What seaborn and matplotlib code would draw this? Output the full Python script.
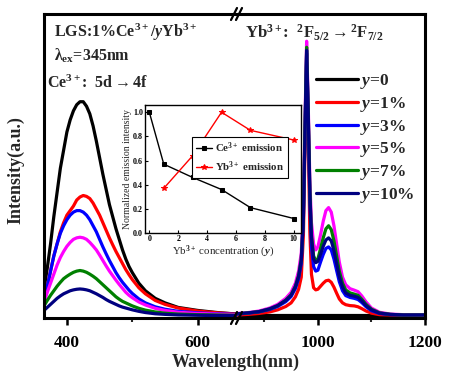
import matplotlib
matplotlib.use("Agg")
import matplotlib.pyplot as plt
import seaborn as sns
import pandas as pd

# ---------------- data ----------------
labels = ["y=0", "y=1%", "y=3%", "y=5%", "y=7%", "y=10%"]
colors = ["#000000", "#ff0000", "#0000ff", "#ff00ff", "#008000", "#000080"]

wl_left = [365, 370, 375, 380, 385, 390, 395, 400, 405, 410, 415, 420, 425, 430, 435, 440, 445, 450,
           455, 460, 465, 470, 475, 480, 485, 490, 495, 500, 510, 520, 535, 550, 570, 600, 630, 660]
ce_y0 = [0.09, 0.16, 0.24, 0.33, 0.41, 0.49, 0.55, 0.61, 0.65, 0.68, 0.70, 0.71, 0.71, 0.695, 0.67, 0.63, 0.58, 0.525,
         0.47, 0.42, 0.37, 0.33, 0.29, 0.255, 0.22, 0.19, 0.165, 0.145, 0.11, 0.085, 0.06, 0.045, 0.03, 0.02, 0.013, 0.008]
ce_y1 = [0.06, 0.10, 0.15, 0.20, 0.24, 0.28, 0.31, 0.335, 0.35, 0.365, 0.385, 0.395, 0.40, 0.397, 0.39, 0.375, 0.355, 0.335,
         0.31, 0.285, 0.26, 0.237, 0.215, 0.195, 0.175, 0.155, 0.138, 0.122, 0.095, 0.075, 0.053, 0.04, 0.028, 0.018, 0.012, 0.008]
ce_y3 = [0.06, 0.10, 0.15, 0.20, 0.24, 0.275, 0.30, 0.32, 0.335, 0.345, 0.35, 0.35, 0.345, 0.335, 0.32, 0.30, 0.28, 0.255,
         0.23, 0.207, 0.185, 0.165, 0.145, 0.128, 0.113, 0.10, 0.087, 0.076, 0.058, 0.045, 0.032, 0.024, 0.017, 0.012, 0.009, 0.007]
ce_y5 = [0.045, 0.08, 0.11, 0.14, 0.17, 0.195, 0.215, 0.232, 0.245, 0.255, 0.26, 0.262, 0.26, 0.255, 0.245, 0.233, 0.22, 0.203,
         0.185, 0.167, 0.15, 0.135, 0.12, 0.106, 0.093, 0.08, 0.07, 0.062, 0.048, 0.038, 0.027, 0.02, 0.014, 0.01, 0.008, 0.006]
ce_y7 = [0.035, 0.053, 0.07, 0.085, 0.10, 0.113, 0.125, 0.133, 0.14, 0.146, 0.15, 0.152, 0.15, 0.146, 0.14, 0.133, 0.125, 0.115,
         0.105, 0.095, 0.085, 0.075, 0.065, 0.057, 0.05, 0.045, 0.04, 0.035, 0.027, 0.021, 0.015, 0.011, 0.008, 0.006, 0.005, 0.004]
ce_y10 = [0.02, 0.03, 0.04, 0.05, 0.06, 0.068, 0.075, 0.08, 0.085, 0.088, 0.09, 0.091, 0.09, 0.088, 0.085, 0.08, 0.075, 0.069,
          0.063, 0.056, 0.05, 0.045, 0.04, 0.035, 0.031, 0.028, 0.025, 0.022, 0.017, 0.013, 0.009, 0.007, 0.005, 0.004, 0.003, 0.003]

wl_right = [850, 870, 890, 910, 925, 940, 950, 958, 964, 969, 973, 976, 979, 982, 985, 988, 992, 996, 1000, 1005,
            1010, 1015, 1020, 1025, 1030, 1035, 1040, 1046, 1052, 1060, 1068, 1075, 1082, 1090, 1100, 1115, 1135, 1160, 1200]
yb_y0 = [0.004] * 39
yb_y1 = [0.005, 0.007, 0.01, 0.015, 0.022, 0.033, 0.045, 0.065, 0.09, 0.13, 0.27, 0.56, 0.84, 0.58, 0.28, 0.14, 0.095, 0.088, 0.09, 0.1,
         0.11, 0.118, 0.12, 0.113, 0.097, 0.077, 0.058, 0.045, 0.039, 0.036, 0.035, 0.032, 0.026, 0.018, 0.011, 0.006, 0.005, 0.004, 0.004]
yb_y3 = [0.008, 0.011, 0.015, 0.023, 0.033, 0.049, 0.066, 0.092, 0.125, 0.175, 0.32, 0.61, 0.87, 0.65, 0.38, 0.23, 0.165, 0.15, 0.153, 0.18,
         0.205, 0.225, 0.23, 0.22, 0.19, 0.152, 0.115, 0.085, 0.069, 0.063, 0.06, 0.056, 0.046, 0.032, 0.019, 0.01, 0.006, 0.005, 0.005]
yb_y5 = [0.01, 0.013, 0.018, 0.028, 0.04, 0.06, 0.08, 0.11, 0.15, 0.21, 0.36, 0.65, 0.91, 0.70, 0.45, 0.31, 0.24, 0.22, 0.23, 0.27,
         0.315, 0.35, 0.36, 0.345, 0.30, 0.24, 0.18, 0.13, 0.105, 0.092, 0.087, 0.082, 0.068, 0.048, 0.028, 0.014, 0.008, 0.006, 0.005]
yb_y7 = [0.009, 0.012, 0.016, 0.025, 0.036, 0.054, 0.072, 0.10, 0.135, 0.19, 0.34, 0.63, 0.89, 0.68, 0.42, 0.27, 0.20, 0.185, 0.19, 0.225,
         0.26, 0.29, 0.30, 0.287, 0.25, 0.20, 0.15, 0.11, 0.088, 0.078, 0.074, 0.07, 0.057, 0.04, 0.024, 0.012, 0.007, 0.005, 0.005]
yb_y10 = [0.009, 0.012, 0.016, 0.025, 0.036, 0.053, 0.07, 0.098, 0.132, 0.185, 0.33, 0.62, 0.88, 0.67, 0.41, 0.26, 0.19, 0.178, 0.182, 0.205,
          0.232, 0.253, 0.26, 0.25, 0.218, 0.175, 0.132, 0.098, 0.078, 0.07, 0.067, 0.063, 0.052, 0.036, 0.022, 0.011, 0.007, 0.005, 0.005]

conc_ce = [0, 1, 3, 5, 7, 10]
norm_ce = [1.0, 0.57, 0.46, 0.36, 0.21, 0.12]
conc_yb = [1, 3, 5, 7, 10]
norm_yb = [0.37, 0.64, 1.0, 0.85, 0.77]

# ---------------- style ----------------
sns.set_theme(style="ticks")
plt.rcParams['font.family'] = ['Liberation Serif', 'DejaVu Serif']
plt.rcParams['font.weight'] = 'bold'
plt.rcParams['mathtext.fontset'] = 'custom'
plt.rcParams['mathtext.rm'] = 'Liberation Serif:bold'
plt.rcParams['mathtext.it'] = 'Liberation Serif:italic:bold'
plt.rcParams['mathtext.bf'] = 'Liberation Serif:bold'

W, H = 455, 375
fig = plt.figure(figsize=(W / 100, H / 100), dpi=100)

def fx(p):
    return p / W

def fy(p):
    return 1 - p / H

x0, xb, x1 = 44, 237, 425
ytop, ybot = 14, 318
axL = fig.add_axes([fx(x0), fy(ybot), fx(xb - x0), (ybot - ytop) / H])
axR = fig.add_axes([fx(xb), fy(ybot), fx(x1 - xb), (ybot - ytop) / H])

left_df = pd.DataFrame({"wl": wl_left * 6,
                        "I": ce_y0 + ce_y1 + ce_y3 + ce_y5 + ce_y7 + ce_y10,
                        "s": sum([[l] * len(wl_left) for l in labels], [])})
right_df = pd.DataFrame({"wl": wl_right * 6,
                         "I": yb_y0 + yb_y1 + yb_y3 + yb_y5 + yb_y7 + yb_y10,
                         "s": sum([[l] * len(wl_right) for l in labels], [])})
pal = dict(zip(labels, colors))
sns.lineplot(data=left_df, x="wl", y="I", hue="s", palette=pal, ax=axL, lw=2.3, legend=False, sort=False)
sns.lineplot(data=right_df, x="wl", y="I", hue="s", palette=pal, ax=axR, lw=2.3, legend=False, sort=False)
for ax in (axL, axR):
    for ln in ax.get_lines():
        ln.set_solid_joinstyle('round')

axL.set_xlim(365, 660)
axR.set_xlim(849, 1200)
for ax in (axL, axR):
    ax.set_ylim(-0.005, 1.0)
    ax.set_yticks([])
    ax.set_xlabel("")
    ax.set_ylabel("")
    for sp in ax.spines.values():
        sp.set_linewidth(2.2)
        sp.set_color("black")
    ax.tick_params(axis='x', which='major', direction='out', length=5, width=1.8,
                   labelsize=12.5, pad=7, colors='black')
    ax.tick_params(axis='x', which='minor', direction='out', length=3, width=1.5)
    ax.patch.set_alpha(0)
axL.spines['right'].set_visible(False)
axR.spines['left'].set_visible(False)
axL.set_xticks([400, 600])
axL.set_xticks([500], minor=True)
axR.set_xticks([1000, 1200])
axR.set_xticks([900, 1100], minor=True)
for ax in (axL, axR):
    for t in ax.get_xticklabels():
        t.set_fontweight('bold')

# break marks
for yy in (ybot, ytop):
    for dx in (-3, 2):
        fig.add_artist(plt.Line2D([fx(xb + dx - 3), fx(xb + dx + 3)], [fy(yy + 6), fy(yy - 6)],
                                  color='black', lw=1.6, transform=fig.transFigure))

# labels
fig.text(fx(236), fy(362), "Wavelength(nm)", ha='center', va='center', fontsize=13, fontweight='bold')
fig.text(fx(16), fy(170), "Intensity(a.u.)", ha='center', va='center', rotation=90, fontsize=13, fontweight='bold')

# annotations
fig.text(fx(54), fy(32), r"LGS:1%Ce$^{3+}$/$y$Yb$^{3+}$", ha='left', va='center', fontsize=11.5)
fig.text(fx(54), fy(56), r"λ$_{\rm ex}$=345nm", ha='left', va='center', fontsize=11.5)
fig.text(fx(47), fy(83), r"Ce$^{3+}$:  5d$\rightarrow$4f", ha='left', va='center', fontsize=11.5)
fig.text(fx(245), fy(33), r"Yb$^{3+}$:  $^{2}$F$_{5/2}$$\rightarrow$$^{2}$F$_{7/2}$", ha='left', va='center', fontsize=12)

# legend
handles = axR.get_lines()[:6]
leg_labels = [r"$y$=0", r"$y$=1%", r"$y$=3%", r"$y$=5%", r"$y$=7%", r"$y$=10%"]
fig.legend(handles, leg_labels, loc='upper left', bbox_to_anchor=(fx(316), fy(72)),
           frameon=False, fontsize=12.5, handlelength=2.4, handletextpad=0.15,
           labelspacing=0.22, borderaxespad=0, borderpad=0)

# inset
ins = fig.add_axes([fx(145), fy(233), fx(301 - 145), (233 - 105) / H])
ins.set_facecolor('white')
sns.lineplot(x=conc_ce, y=norm_ce, ax=ins, color='black', lw=1.0, marker='s', markersize=2.5,
             markeredgecolor='black', label=r"Ce$^{3+}$ emission")
sns.lineplot(x=conc_yb, y=norm_yb, ax=ins, color='red', lw=1.0, marker='*', markersize=4,
             markeredgecolor='red', label=r"Yb$^{3+}$ emission")
ins.set_xlim(-0.3, 10.5)
ins.set_ylim(0, 1.06)
ins.set_xticks([0, 2, 4, 6, 8, 10])
ins.set_yticks([0.0, 0.2, 0.4, 0.6, 0.8, 1.0])
ins.set_yticklabels(["0.0", "0.2", "0.4", "0.6", "0.8", "1.0"])
ins.tick_params(direction='in', length=2, width=0.8, labelsize=5.8, pad=1.5, colors='black')
for sp in ins.spines.values():
    sp.set_linewidth(1.0)
    sp.set_color('black')
ins.set_xlabel(r"Yb$^{3+}$ concentration ($y$)", fontsize=7.8, labelpad=0.5)
ins.set_ylabel("Normalized emission intensity", fontsize=7, labelpad=1)
ins.legend(loc='center right', bbox_to_anchor=(0.95, 0.59), fontsize=7.8, frameon=True,
           fancybox=False, edgecolor='black', handlelength=1.5, handletextpad=0.25,
           borderpad=0.35, labelspacing=0.4, framealpha=1)
ins.get_legend().get_frame().set_linewidth(0.8)

fig.savefig("out.png", dpi=100)
